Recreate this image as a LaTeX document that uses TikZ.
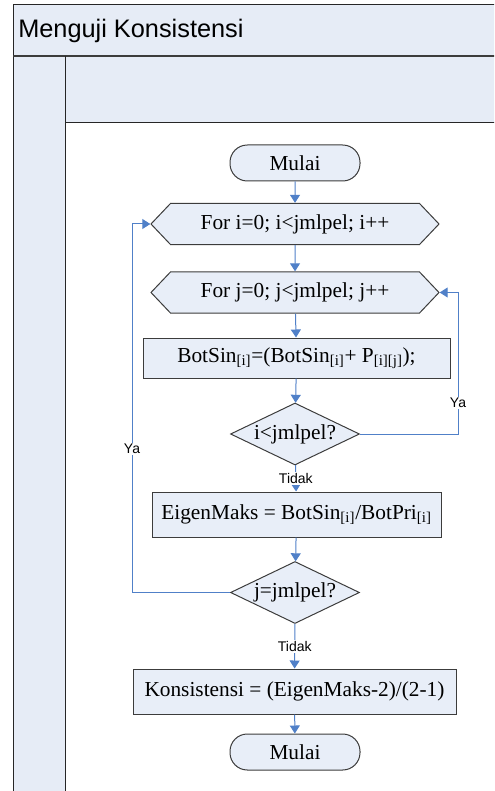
\documentclass[tikz,border=0pt]{standalone}
\usepackage{fontspec}
\setmainfont{Liberation Serif}
\newfontfamily\arialfont{Liberation Sans}
\usetikzlibrary{shapes.geometric,shapes.symbols,arrows.meta}

\definecolor{lanefill}{HTML}{E6ECF6}
\definecolor{nodefill}{HTML}{E8EEF8}
\definecolor{boxline}{HTML}{3C3C3C}
\definecolor{flowblue}{HTML}{5080C8}
\definecolor{loopblue}{HTML}{7EA2D8}

\newcommand\flowfont{\fontsize{16}{19}\selectfont}
\newcommand\tagfont{\arialfont\fontsize{10.5}{12}\selectfont}

\tikzset{
  frame/.style={draw=black!85, line width=0.75pt},
  shapebase/.style={draw=boxline, fill=nodefill, line width=0.75pt, font=\flowfont, inner sep=0pt},
  terminal/.style={shapebase, rectangle, rounded corners=13pt, minimum width=97.5pt, minimum height=27pt},
  loophead/.style={shapebase, signal, signal to=west and east, signal pointer angle=93,
                   minimum width=216pt, minimum height=31pt},
  process/.style={shapebase, rectangle, minimum height=30pt},
  decision/.style={shapebase, diamond, aspect=2.08, minimum width=96.75pt, minimum height=46.5pt},
  flow/.style={draw=flowblue, line width=0.75pt, -{Triangle[length=6pt,width=7.5pt]}},
  back/.style={draw=loopblue, line width=0.75pt, -{Triangle[length=6pt,width=7.5pt]}, color=flowblue},
  tag/.style={font=\tagfont, fill=white, inner sep=1pt, text=black},
}

\begin{document}
\begin{tikzpicture}[x=0.75pt, y=-0.75pt]
\useasboundingbox (0,0) rectangle (494,791);
\clip (0,0) rectangle (494,791);

% swimlane pool: title band, lane header and lane column
\fill[lanefill] (13,5) rectangle (510,123);
\fill[lanefill] (13,123) rectangle (65,810);
\draw[frame] (510,5) -- (13,5) -- (13,810);
\draw[draw=boxline, line width=1.5pt] (13,56) -- (510,56);
\draw[frame] (65,56) -- (65,810);
\draw[frame] (65,123) -- (510,123);
\node[anchor=west, font=\arialfont\fontsize{19}{23}\selectfont, inner sep=0pt] (title) at (18,31) {Menguji Konsistensi};

% flowchart nodes
\node[terminal] (start) at (295,163) {Mulai};
\node[loophead] (fori) at (295,224) {For i=0; i<jmlpel; i++};
\node[loophead] (forj) at (295,292.5) {For j=0; j<jmlpel; j++};
\node[process, minimum width=230.25pt] (botsin) at (296.5,358)
  {BotSin\textsubscript{[i]}=(BotSin\textsubscript{[i]}+ P\textsubscript{[i][j]});};
\node[decision] (deci) at (295,434) {i<jmlpel?};
\node[process, minimum width=216.75pt, minimum height=33.75pt] (eigen) at (296.5,514.5)
  {EigenMaks = BotSin\textsubscript{[i]}/BotPri\textsubscript{[i]}};
\node[decision] (decj) at (295,592.5) {j=jmlpel?};
\node[process, minimum width=242.25pt, minimum height=33.75pt] (kons) at (294.5,691.5)
  {Konsistensi = (EigenMaks-2)/(2-1)};
\node[terminal] (finish) at (295,752) {Mulai};

% loop return points
\coordinate (rturn) at (458,434);
\coordinate (lturn) at (132,592.5);

% connectors
\draw[flow] (start) -- (fori);
\draw[flow] (fori) -- (forj);
\draw[flow] (forj) -- (botsin);
\draw[flow] (botsin) -- (deci);
\draw[flow] (deci) -- node[tag] {Tidak} (eigen);
\draw[flow] (eigen) -- (decj);
\draw[flow] (decj) -- node[tag] {Tidak} (kons);
\draw[flow] (kons) -- (finish);
\draw[back] (deci.east) -- (rturn) |- node[tag, pos=0.11] {Ya} (forj.east);
\draw[back] (decj.west) -- (lturn) |- node[tag, pos=0.195] {Ya} (fori.west);
\end{tikzpicture}
\end{document}
